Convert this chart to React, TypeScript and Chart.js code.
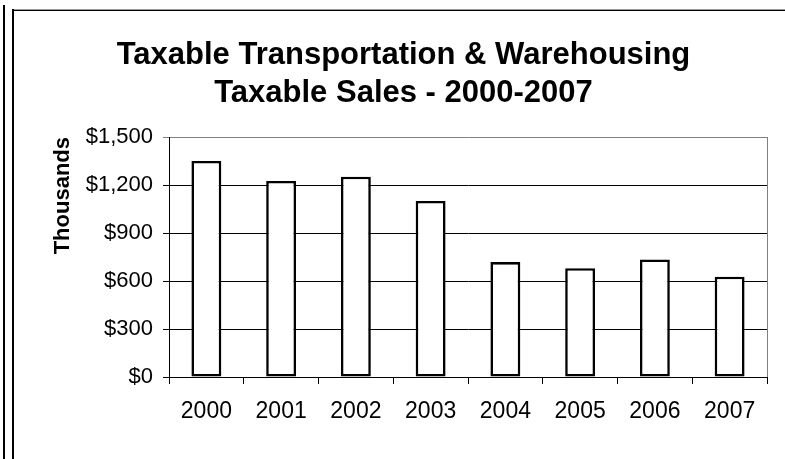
import React, { useEffect, useRef } from "react";
import { Chart, registerables } from "chart.js";

Chart.register(...registerables);

const categories = ["2000", "2001", "2002", "2003", "2004", "2005", "2006", "2007"];
const salesThousands = [1350, 1225, 1252, 1100, 718, 680, 735, 627];
const yMin = 0;
const yMax = 1500;
const yStep = 300;
const titleLines = ["Taxable Transportation & Warehousing", "Taxable Sales - 2000-2007"];
const yAxisTitle = "Thousands";

const FONT = "'Liberation Sans', Arial, Helvetica, sans-serif";

const plotBorder = {
  id: "plotBorder",
  afterDatasetsDraw(chart: any) {
    const { ctx, chartArea } = chart;
    ctx.save();
    ctx.strokeStyle = "#808080";
    ctx.lineWidth = 1;
    ctx.beginPath();
    const x = Math.round(chartArea.right) + 0.5;
    ctx.moveTo(x, chartArea.top);
    ctx.lineTo(x, chartArea.bottom);
    ctx.stroke();
    ctx.restore();
  },
};

export default function App() {
  const ref = useRef<HTMLCanvasElement | null>(null);

  useEffect(() => {
    if (!ref.current) return;
    Chart.defaults.font.family = FONT;
    const chart = new Chart(ref.current, {
      type: "bar",
      data: {
        labels: categories,
        datasets: [
          {
            data: salesThousands,
            backgroundColor: "#ffffff",
            borderColor: "#000000",
            borderWidth: 2.6,
            borderSkipped: false,
            categoryPercentage: 1,
            barPercentage: 0.4,
          },
        ],
      },
      options: {
        animation: false,
        responsive: false,
        devicePixelRatio: 1,
        layout: { padding: { left: 40, right: 18, top: 0, bottom: 0 } },
        plugins: {
          legend: { display: false },
          tooltip: { enabled: false },
          title: {
            display: true,
            text: titleLines,
            color: "#000",
            font: { family: FONT, size: 31, weight: "bold", lineHeight: "38.5px" },
            padding: { top: 35.75, bottom: 24.25 },
          },
        },
        scales: {
          x: {
            offset: true,
            grid: {
              display: true,
              offset: true,
              drawOnChartArea: false,
              drawTicks: true,
              tickLength: 7,
              color: "#000",
              lineWidth: 1,
            },
            border: { display: true, color: "#000", width: 1 },
            ticks: {
              color: "#000",
              font: { family: FONT, size: 23 },
              padding: 14,
              maxRotation: 0,
              autoSkip: false,
            },
            afterFit: (s: any) => {
              s.height = 82;
            },
          },
          y: {
            min: yMin,
            max: yMax,
            ticks: {
              stepSize: yStep,
              color: "#000",
              font: { family: FONT, size: 22 },
              padding: 10,
              callback: (v: any) => "$" + Number(v).toLocaleString("en-US"),
            },
            grid: {
              color: (c: any) => (c.tick && c.tick.value === yMax ? "#808080" : "#000"),
              lineWidth: 1,
              tickLength: 6,
              drawTicks: true,
            },
            border: { display: true, color: "#000", width: 1 },
            title: {
              display: true,
              text: yAxisTitle,
              align: "end",
              color: "#000",
              font: { family: FONT, size: 22, weight: "bold" },
              padding: { top: 10, bottom: 0 },
            },
            afterFit: (s: any) => {
              s.width = 129;
            },
          },
        },
      },
      plugins: [plotBorder],
    } as any);
    return () => chart.destroy();
  }, []);

  return (
    <div
      style={{
        position: "fixed",
        left: 0,
        top: 0,
        width: 785,
        height: 459,
        background: "#fff",
        overflow: "hidden",
      }}
    >
      <div style={{ position: "absolute", left: 3, top: 5, width: 2, height: 460, background: "#000" }} />
      <div style={{ position: "absolute", left: 12, top: 9, width: 800, height: 1, background: "#999" }} />
      <div style={{ position: "absolute", left: 12, top: 10, width: 800, height: 1, background: "#000" }} />
      <div style={{ position: "absolute", left: 12, top: 9, width: 2, height: 460, background: "#000" }} />
      <canvas
        ref={ref}
        width={785}
        height={459}
        style={{ position: "absolute", left: 0, top: 0, display: "block" }}
      />
    </div>
  );
}
